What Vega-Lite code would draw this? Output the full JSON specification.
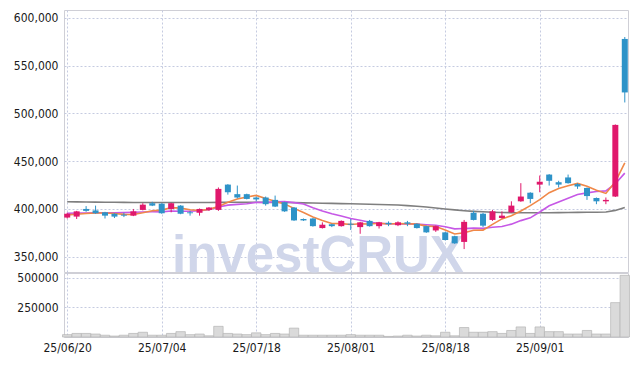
{
  "$schema": "https://vega.github.io/schema/vega-lite/v6.json",
  "padding": {"left": 12, "top": 9, "right": 9, "bottom": 0},
  "background": "white",
  "spacing": 1,
  "bounds": "flush",
  "config": {
    "view": {"stroke": "#cfcfd6", "strokeWidth": 1},
    "axis": {
      "labelFont": "DejaVu Sans Condensed, Liberation Sans Narrow, Liberation Sans",
      "labelFontSize": 12,
      "labelColor": "#1a1a1a",
      "ticks": false,
      "domain": false,
      "gridColor": "#c5cbe0",
      "gridDash": [2, 2],
      "gridWidth": 1,
      "title": null,
      "labelPadding": 6
    }
  },
  "data": {"values": [
    {"d": "25/06/20", "o": 391000, "h": 396000, "l": 390000, "c": 395000, "v": 20000, "ma5": 393800, "ma10": 395500, "ma60": 407500},
    {"d": "25/06/23", "o": 392000, "h": 398000, "l": 389500, "c": 397500, "v": 30000, "ma5": 394500, "ma10": 395600, "ma60": 407400},
    {"d": "25/06/24", "o": 400000, "h": 403000, "l": 397000, "c": 398000, "v": 30000, "ma5": 395300, "ma10": 395800, "ma60": 407300},
    {"d": "25/06/25", "o": 398500, "h": 403500, "l": 395000, "c": 395500, "v": 25000, "ma5": 395800, "ma10": 396000, "ma60": 407200},
    {"d": "25/06/26", "o": 396500, "h": 397000, "l": 390000, "c": 393000, "v": 15000, "ma5": 395800, "ma10": 396000, "ma60": 407100},
    {"d": "25/06/27", "o": 395000, "h": 395500, "l": 390500, "c": 392000, "v": 8000, "ma5": 395200, "ma10": 396000, "ma60": 407000},
    {"d": "25/06/30", "o": 394000, "h": 396000, "l": 391500, "c": 393000, "v": 15000, "ma5": 394300, "ma10": 396200, "ma60": 406900},
    {"d": "25/07/01", "o": 393000, "h": 400000, "l": 392500, "c": 397500, "v": 30000, "ma5": 394200, "ma10": 396500, "ma60": 406800},
    {"d": "25/07/02", "o": 399000, "h": 406000, "l": 398500, "c": 404500, "v": 40000, "ma5": 396000, "ma10": 396800, "ma60": 406800},
    {"d": "25/07/03", "o": 406000, "h": 407500, "l": 403000, "c": 403500, "v": 15000, "ma5": 398100, "ma10": 397000, "ma60": 406700},
    {"d": "25/07/04", "o": 405500, "h": 406000, "l": 395000, "c": 395500, "v": 15000, "ma5": 398800, "ma10": 397000, "ma60": 406700},
    {"d": "25/07/07", "o": 400000, "h": 406500, "l": 396500, "c": 406000, "v": 30000, "ma5": 401400, "ma10": 397900, "ma60": 406700},
    {"d": "25/07/08", "o": 403500, "h": 404000, "l": 394500, "c": 395000, "v": 45000, "ma5": 400900, "ma10": 397600, "ma60": 406700},
    {"d": "25/07/09", "o": 396500, "h": 398000, "l": 393000, "c": 395500, "v": 20000, "ma5": 399100, "ma10": 397600, "ma60": 406700},
    {"d": "25/07/10", "o": 396000, "h": 400500, "l": 393000, "c": 400000, "v": 25000, "ma5": 398400, "ma10": 398300, "ma60": 406700},
    {"d": "25/07/11", "o": 399000, "h": 402000, "l": 398000, "c": 401500, "v": 10000, "ma5": 399600, "ma10": 399200, "ma60": 406800},
    {"d": "25/07/14", "o": 399000, "h": 422500, "l": 398000, "c": 421000, "v": 90000, "ma5": 402600, "ma10": 402000, "ma60": 406900},
    {"d": "25/07/15", "o": 425500, "h": 426000, "l": 415000, "c": 417500, "v": 30000, "ma5": 407100, "ma10": 404000, "ma60": 407000},
    {"d": "25/07/16", "o": 415500, "h": 424500, "l": 411000, "c": 412000, "v": 25000, "ma5": 410400, "ma10": 404800, "ma60": 407000},
    {"d": "25/07/17", "o": 415500, "h": 416000, "l": 410000, "c": 410500, "v": 20000, "ma5": 412500, "ma10": 405500, "ma60": 407000},
    {"d": "25/07/18", "o": 412000, "h": 413000, "l": 408000, "c": 410000, "v": 35000, "ma5": 414200, "ma10": 406900, "ma60": 407000},
    {"d": "25/07/21", "o": 412000, "h": 413000, "l": 403500, "c": 405000, "v": 20000, "ma5": 411000, "ma10": 406800, "ma60": 406900},
    {"d": "25/07/22", "o": 409500, "h": 414000, "l": 402000, "c": 402500, "v": 30000, "ma5": 408000, "ma10": 407600, "ma60": 406800},
    {"d": "25/07/23", "o": 407000, "h": 407500, "l": 397000, "c": 397500, "v": 25000, "ma5": 405100, "ma10": 407800, "ma60": 406700},
    {"d": "25/07/24", "o": 401500, "h": 402000, "l": 387500, "c": 388000, "v": 75000, "ma5": 400600, "ma10": 406600, "ma60": 406600},
    {"d": "25/07/25", "o": 389500, "h": 390000, "l": 387500, "c": 388000, "v": 15000, "ma5": 396200, "ma10": 405200, "ma60": 406400},
    {"d": "25/07/28", "o": 390000, "h": 390500, "l": 381500, "c": 382000, "v": 15000, "ma5": 391600, "ma10": 401300, "ma60": 406200},
    {"d": "25/07/29", "o": 380000, "h": 386000, "l": 379500, "c": 383500, "v": 15000, "ma5": 387800, "ma10": 397900, "ma60": 406000},
    {"d": "25/07/30", "o": 384000, "h": 384500, "l": 381000, "c": 382000, "v": 15000, "ma5": 384700, "ma10": 394900, "ma60": 405800},
    {"d": "25/07/31", "o": 382000, "h": 388000, "l": 381500, "c": 387500, "v": 15000, "ma5": 384600, "ma10": 392600, "ma60": 405600},
    {"d": "25/08/01", "o": 384500, "h": 389500, "l": 378000, "c": 383500, "v": 20000, "ma5": 383700, "ma10": 390000, "ma60": 405400},
    {"d": "25/08/04", "o": 381000, "h": 386500, "l": 374000, "c": 386000, "v": 15000, "ma5": 384500, "ma10": 388100, "ma60": 405200},
    {"d": "25/08/05", "o": 387500, "h": 388500, "l": 381500, "c": 382000, "v": 15000, "ma5": 384200, "ma10": 386000, "ma60": 405000},
    {"d": "25/08/06", "o": 382000, "h": 386500, "l": 379500, "c": 386000, "v": 15000, "ma5": 385000, "ma10": 384900, "ma60": 404700},
    {"d": "25/08/07", "o": 385500, "h": 387000, "l": 382000, "c": 384000, "v": 5000, "ma5": 384300, "ma10": 384500, "ma60": 404400},
    {"d": "25/08/08", "o": 383000, "h": 387000, "l": 382000, "c": 386000, "v": 8000, "ma5": 384800, "ma10": 384300, "ma60": 404100},
    {"d": "25/08/11", "o": 386000, "h": 387500, "l": 382000, "c": 384500, "v": 15000, "ma5": 384500, "ma10": 384500, "ma60": 403500},
    {"d": "25/08/12", "o": 384500, "h": 385000, "l": 379500, "c": 380000, "v": 8000, "ma5": 384100, "ma10": 384200, "ma60": 402800},
    {"d": "25/08/13", "o": 382000, "h": 382500, "l": 375000, "c": 375500, "v": 15000, "ma5": 382000, "ma10": 383500, "ma60": 402000},
    {"d": "25/08/14", "o": 377500, "h": 382500, "l": 376000, "c": 382000, "v": 10000, "ma5": 381600, "ma10": 383000, "ma60": 401000},
    {"d": "25/08/18", "o": 375500, "h": 376000, "l": 367000, "c": 367500, "v": 40000, "ma5": 377900, "ma10": 381400, "ma60": 400000},
    {"d": "25/08/19", "o": 371500, "h": 372000, "l": 363500, "c": 364000, "v": 10000, "ma5": 373800, "ma10": 379200, "ma60": 399000},
    {"d": "25/08/20", "o": 365500, "h": 388500, "l": 358000, "c": 386500, "v": 80000, "ma5": 375100, "ma10": 379600, "ma60": 398200},
    {"d": "25/08/21", "o": 396000, "h": 398000, "l": 388000, "c": 388500, "v": 40000, "ma5": 377700, "ma10": 379900, "ma60": 397500},
    {"d": "25/08/22", "o": 395000, "h": 396000, "l": 381000, "c": 382500, "v": 40000, "ma5": 377800, "ma10": 379700, "ma60": 397000},
    {"d": "25/08/25", "o": 388500, "h": 399000, "l": 387500, "c": 397500, "v": 45000, "ma5": 383800, "ma10": 380900, "ma60": 396600},
    {"d": "25/08/26", "o": 390500, "h": 397500, "l": 390000, "c": 393000, "v": 30000, "ma5": 389600, "ma10": 381700, "ma60": 396300},
    {"d": "25/08/27", "o": 396500, "h": 408000, "l": 396000, "c": 403500, "v": 55000, "ma5": 393000, "ma10": 384100, "ma60": 396100},
    {"d": "25/08/28", "o": 408000, "h": 427000, "l": 407500, "c": 413000, "v": 85000, "ma5": 397900, "ma10": 387800, "ma60": 396000},
    {"d": "25/08/29", "o": 417000, "h": 417500, "l": 406000, "c": 410500, "v": 30000, "ma5": 403500, "ma10": 390700, "ma60": 396000},
    {"d": "25/09/01", "o": 425500, "h": 435000, "l": 417500, "c": 428500, "v": 85000, "ma5": 409700, "ma10": 396800, "ma60": 396000},
    {"d": "25/09/02", "o": 436000, "h": 436500, "l": 424500, "c": 429500, "v": 45000, "ma5": 417000, "ma10": 403300, "ma60": 396100},
    {"d": "25/09/03", "o": 428000, "h": 429500, "l": 422500, "c": 425500, "v": 45000, "ma5": 421400, "ma10": 407200, "ma60": 396200},
    {"d": "25/09/04", "o": 433000, "h": 436000, "l": 426500, "c": 427000, "v": 25000, "ma5": 424200, "ma10": 411100, "ma60": 396300},
    {"d": "25/09/05", "o": 426000, "h": 427000, "l": 421000, "c": 423500, "v": 25000, "ma5": 426800, "ma10": 415200, "ma60": 396400},
    {"d": "25/09/08", "o": 422000, "h": 422500, "l": 409500, "c": 413500, "v": 55000, "ma5": 423800, "ma10": 416800, "ma60": 396500},
    {"d": "25/09/09", "o": 411500, "h": 412000, "l": 405000, "c": 408000, "v": 25000, "ma5": 419500, "ma10": 418300, "ma60": 396600},
    {"d": "25/09/10", "o": 408000, "h": 412000, "l": 405000, "c": 409500, "v": 25000, "ma5": 416300, "ma10": 418900, "ma60": 396800},
    {"d": "25/09/11", "o": 413000, "h": 488500, "l": 412500, "c": 488000, "v": 290000, "ma5": 428500, "ma10": 426400, "ma60": 398500},
    {"d": "25/09/12", "o": 578000, "h": 580000, "l": 511500, "c": 522000, "v": 520000, "ma5": 448200, "ma10": 437500, "ma60": 401500}
  ]},
  "vconcat": [
    {
      "width": 564,
      "height": 262,
      "encoding": {
        "x": {"field": "d", "type": "ordinal", "sort": null,
              "scale": {"type": "point", "padding": 0.34,
                        "domain": ["25/06/20","25/06/23","25/06/24","25/06/25","25/06/26","25/06/27","25/06/30","25/07/01","25/07/02","25/07/03","25/07/04","25/07/07","25/07/08","25/07/09","25/07/10","25/07/11","25/07/14","25/07/15","25/07/16","25/07/17","25/07/18","25/07/21","25/07/22","25/07/23","25/07/24","25/07/25","25/07/28","25/07/29","25/07/30","25/07/31","25/08/01","25/08/04","25/08/05","25/08/06","25/08/07","25/08/08","25/08/11","25/08/12","25/08/13","25/08/14","25/08/18","25/08/19","25/08/20","25/08/21","25/08/22","25/08/25","25/08/26","25/08/27","25/08/28","25/08/29","25/09/01","25/09/02","25/09/03","25/09/04","25/09/05","25/09/08","25/09/09","25/09/10","25/09/11","25/09/12"]},
              "axis": {"labels": false, "grid": true, "labelPadding": 0, "minExtent": 0, "maxExtent": 0, "offset": 0, "values": ["25/06/20", "25/07/04", "25/07/18", "25/08/01", "25/08/18", "25/09/01"]}}
      },
      "layer": [
        {
          "data": {"values": [{}]},
          "mark": {"type": "text", "fontSize": 51, "fontWeight": "bold", "font": "Liberation Sans, Arial, sans-serif", "color": "#d0d6ea", "align": "center", "baseline": "middle", "dx": 5},
          "encoding": {
            "x": {"datum": "25/07/28", "type": "ordinal"},
            "y": {"datum": 350000, "type": "quantitative"},
            "text": {"value": "investCRUX"}
          }
        },
        {
          "mark": {"type": "line", "color": "#7f7f7f", "strokeWidth": 1.6},
          "encoding": {"y": {"field": "ma60", "type": "quantitative"}}
        },
        {
          "mark": {"type": "line", "color": "#c658e6", "strokeWidth": 1.6},
          "encoding": {"y": {"field": "ma10", "type": "quantitative"}}
        },
        {
          "mark": {"type": "line", "color": "#f08848", "strokeWidth": 1.6},
          "encoding": {"y": {"field": "ma5", "type": "quantitative"}}
        },
        {
          "mark": {"type": "rule", "strokeWidth": 1},
          "encoding": {
            "y": {"field": "l", "type": "quantitative",
                  "scale": {"domain": [334000, 608300], "nice": false, "zero": false},
                  "axis": {"format": ",d", "values": [350000, 400000, 450000, 500000, 550000, 600000], "grid": true}},
            "y2": {"field": "h"},
            "color": {"condition": {"test": "datum.c >= datum.o", "value": "#e0186c"}, "value": "#2e93c8"}
          }
        },
        {
          "mark": {"type": "bar", "size": 6},
          "encoding": {
            "y": {"field": "o", "type": "quantitative"},
            "y2": {"field": "c"},
            "color": {"condition": {"test": "datum.c >= datum.o", "value": "#e0186c"}, "value": "#2e93c8"}
          }
        }
      ]
    },
    {
      "width": 564,
      "height": 64,
      "mark": {"type": "bar", "size": 9.4, "color": "#dadada", "stroke": "#b5b5b5", "strokeWidth": 0.7},
      "encoding": {
        "x": {"field": "d", "type": "ordinal", "sort": null,
              "scale": {"type": "point", "padding": 0.34},
              "axis": {"grid": true, "labelAngle": 0, "labelPadding": 5, "values": ["25/06/20", "25/07/04", "25/07/18", "25/08/01", "25/08/18", "25/09/01"]}},
        "y": {"field": "v", "type": "quantitative",
              "scale": {"domain": [0, 540000], "nice": false},
              "axis": {"format": "d", "values": [250000, 500000], "grid": true}}
      }
    }
  ]
}
